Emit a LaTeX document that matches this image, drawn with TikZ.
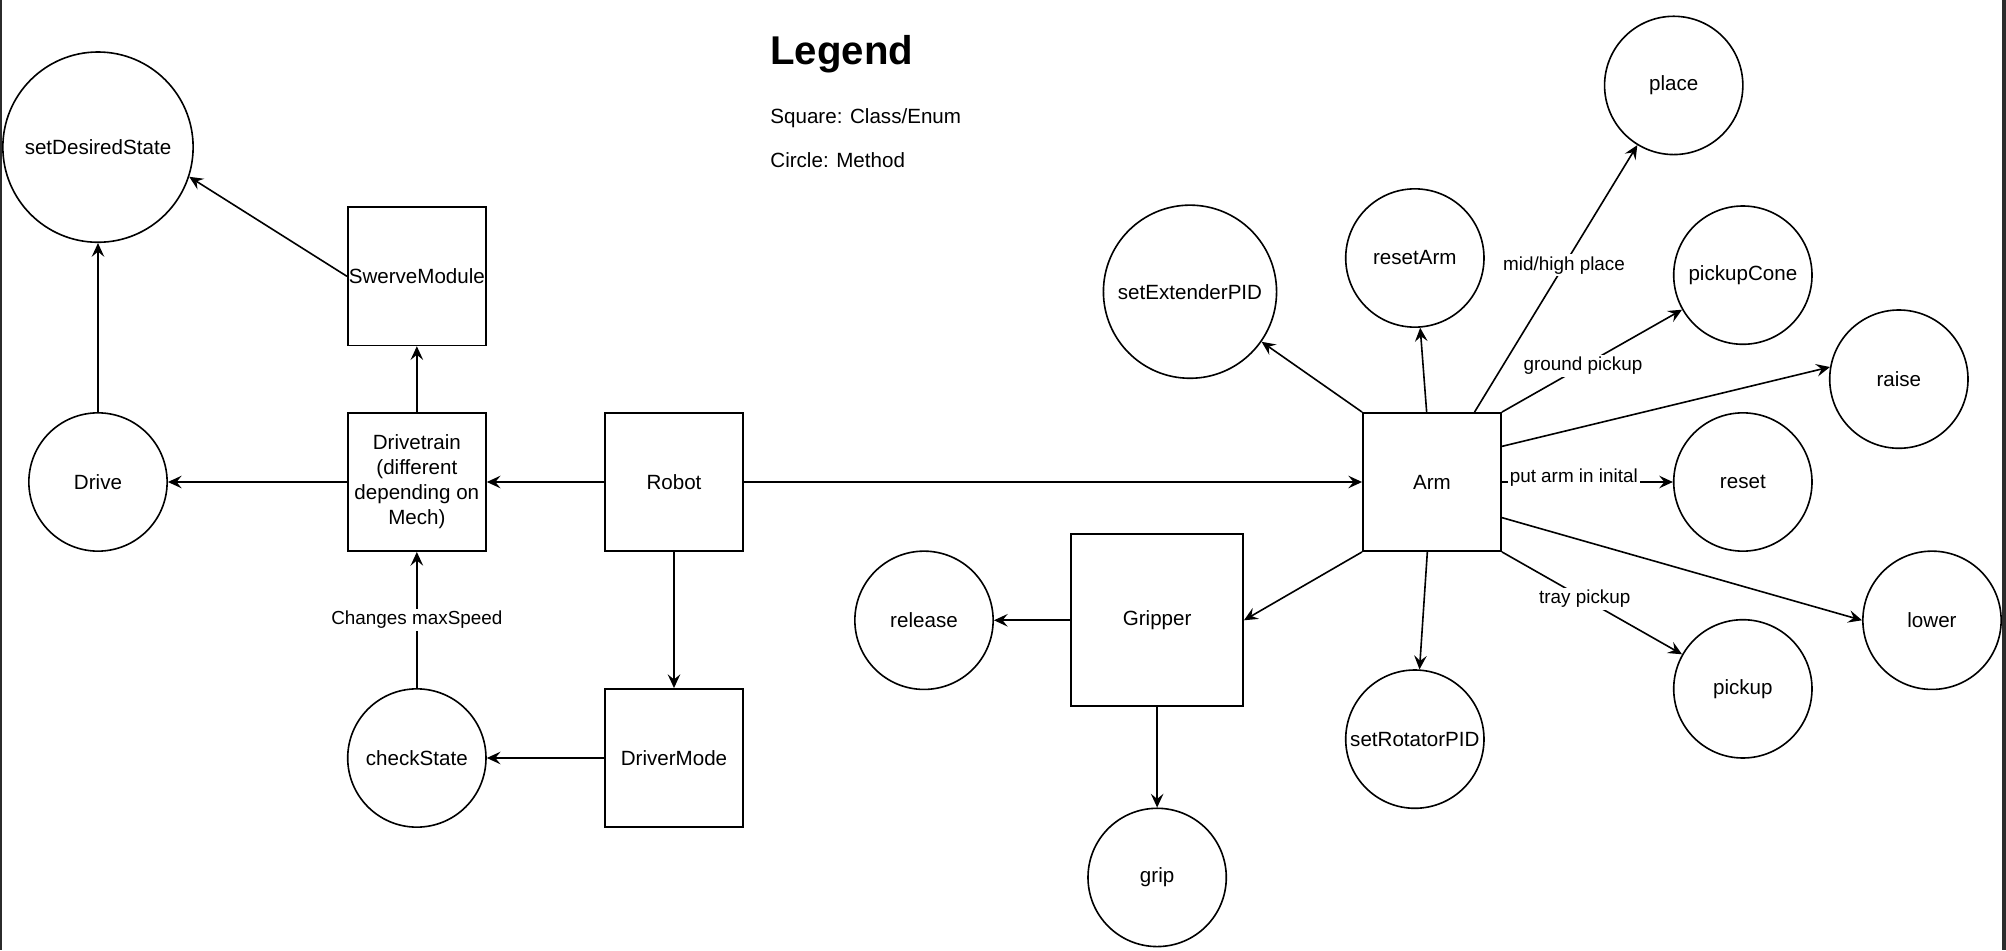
\documentclass[tikz,border=0pt]{standalone}
\usepackage{fontspec}
\setmainfont{Liberation Sans}
\usepackage{xcolor}
\usepackage{tikz}
\usetikzlibrary{shapes.geometric, arrows, arrows.meta}
\definecolor{framegray}{HTML}{2B2B2B}
\tikzstyle{cls} = [rectangle, minimum width=2.42cm, minimum height=2.42cm, inner sep=0pt, text centered, align=center, draw=black, fill=white, thick, font=\fontsize{10.25}{12.4}\selectfont]
\tikzstyle{bigcls} = [cls, minimum width=3.01cm, minimum height=3.01cm]
\tikzstyle{mth} = [circle, minimum size=2.42cm, inner sep=0pt, text centered, draw=black, fill=white, thick, font=\fontsize{10.25}{12.4}\selectfont]
\tikzstyle{lbl} = [fill=white, inner sep=1pt, font=\fontsize{9.4}{11}\selectfont]
\tikzstyle{legendtitle} = [inner sep=0pt, font=\fontsize{20}{24}\selectfont\bfseries]
\tikzstyle{legendtext} = [inner sep=0pt, font=\fontsize{10.25}{12.4}\selectfont]
\tikzstyle{arrow} = [thick,->,>={Stealth[length=2.4mm,width=2.2mm,inset=0.9mm]}]

\begin{document}
\begin{tikzpicture}[node distance=4.5cm]
\useasboundingbox (-11.795,-8.19) rectangle (23.31,8.435);
\fill [framegray] (-11.795,-8.19) rectangle (-11.76,8.435);
\fill [framegray] (23.235,-8.19) rectangle (23.31,8.435);

\node (robot) [cls] {Robot};
\node (drivetrain) [cls, left of=robot] {Drivetrain\\(different\\depending on\\Mech)};
\node (drive) [mth, left of=drivetrain, xshift=-1.08cm] {Drive};
\node (swerve) [cls, above of=drivetrain, yshift=-0.9cm] {SwerveModule};
\node (desired) [mth, minimum size=3.33cm, above of=drive, yshift=1.36cm] {setDesiredState};

\node (drivermode) [cls, below of=robot, yshift=-0.33cm] {DriverMode};
\node (checkstate) [mth, left of=drivermode] {checkState};

\node (arm) [cls, right of=robot, xshift=8.765cm] {Arm};
\node (gripper) [bigcls, left of=arm, xshift=-0.31cm, yshift=-2.42cm] {Gripper};
\node (release) [mth, left of=gripper, xshift=0.42cm] {release};
\node (grip) [mth, below of=gripper] {grip};

\node (rotator) [mth, below of=arm, xshift=-0.3cm] {setRotatorPID};
\node (resetarm) [mth, above of=arm, xshift=-0.3cm, yshift=-0.58cm] {resetArm};
\node (extender) [mth, minimum size=3.03cm, left of=arm, xshift=0.265cm, yshift=3.33cm] {setExtenderPID};

\node (reset) [mth, right of=arm, xshift=0.94cm] {reset};
\node (pickupcone) [mth, above of=reset, yshift=-0.88cm] {pickupCone};
\node (pickup) [mth, below of=reset, yshift=0.88cm] {pickup};
\node (place) [mth, above of=pickupcone, xshift=-1.21cm, yshift=-1.18cm] {place};
\node (raise) [mth, right of=pickupcone, xshift=-1.77cm, yshift=-1.82cm] {raise};
\node (lower) [mth, right of=pickup, xshift=-1.19cm, yshift=1.2cm] {lower};

% legend
\node (legend) [legendtitle, above of=robot, anchor=base west, xshift=1.68cm, yshift=2.8cm] {Legend};
\node (sq) [legendtext, above of=robot, anchor=base west, xshift=1.68cm, yshift=1.78cm] {Square: Class/Enum};
\node (circ) [legendtext, above of=robot, anchor=base west, xshift=1.68cm, yshift=1.01cm] {Circle: Method};

\draw [arrow] (robot) -- (drivetrain);
\draw [arrow] (drivetrain) -- (drive);
\draw [arrow] (drivetrain) -- (swerve);
\draw [arrow] (swerve.west) -- (desired.-18);
\draw [arrow] (drive) -- (desired);
\draw [arrow] (robot) -- (drivermode);
\draw [arrow] (drivermode) -- (checkstate);
\draw [arrow] (checkstate) -- node [lbl] {Changes maxSpeed} (drivetrain);

\draw [arrow] (robot) -- (arm);
\draw [arrow] (arm.south west) -- (gripper.east);
\draw [arrow] (gripper) -- (release);
\draw [arrow] (gripper) -- (grip);

\draw [arrow] (arm) -- (rotator);
\draw [arrow] (arm) -- (resetarm);
\draw [arrow] (arm.north west) -- (extender);
\draw [arrow] (arm) -- node [lbl, pos=0.55] {mid/high place} (place);
\draw [arrow] (arm.north east) -- node [lbl, pos=0.45] {ground pickup} (pickupcone);
\draw [arrow] (arm.27) -- (raise.170);
\draw [arrow] (arm) -- node [lbl, pos=0.42, anchor=base] {put arm in inital} (reset);
\draw [arrow] (arm.-27) -- (lower.west);
\draw [arrow] (arm.south east) -- node [lbl, pos=0.46] {tray pickup} (pickup);

\end{tikzpicture}
\end{document}
